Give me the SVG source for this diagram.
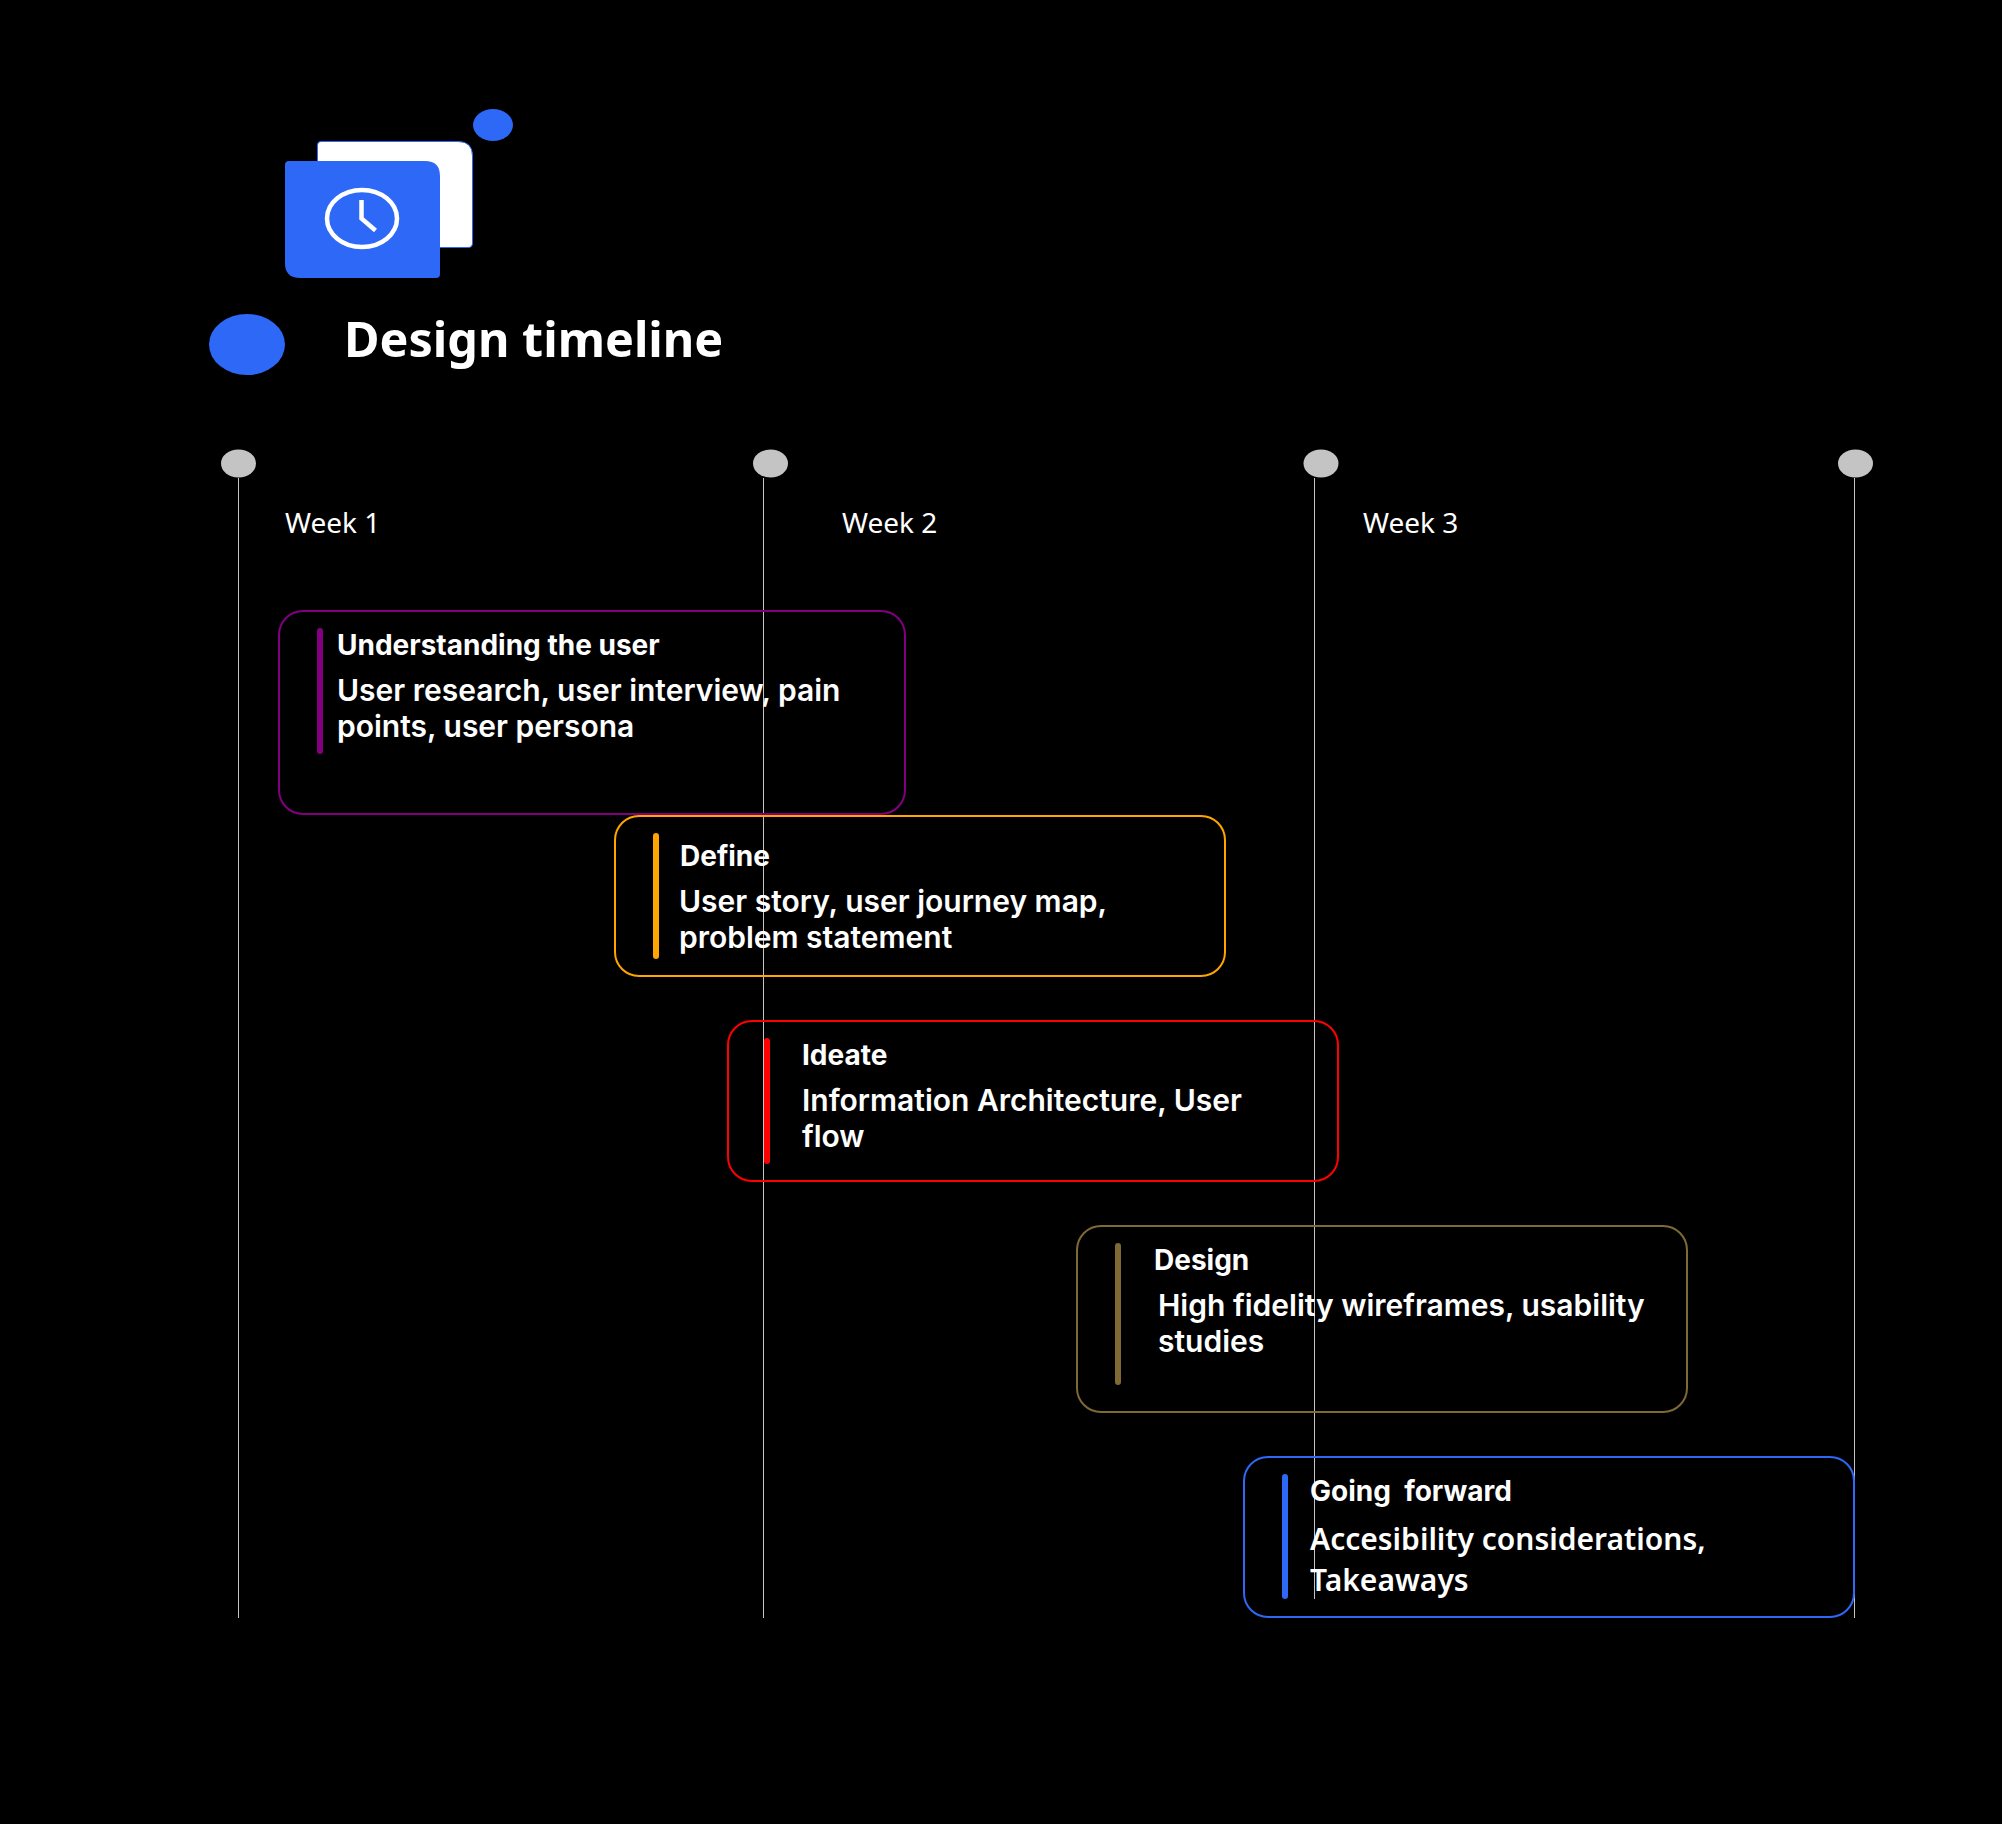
<svg xmlns="http://www.w3.org/2000/svg" width="2002" height="1824" viewBox="0 0 2002 1824">
<style>
.bg{fill:#000}
.blue{fill:#2d68f6}
.dot{fill:#c4c4c4}
.axis{stroke:#c4c4c4;stroke-width:1;fill:none}
.card{fill:none;stroke-width:2}
.title{font-family:"Noto Sans","Open Sans",sans-serif;font-weight:700;font-size:48.5px;fill:#fff}
.week{font-family:"Noto Sans","Open Sans",sans-serif;font-weight:400;font-size:28px;fill:#fff}
.h{font-family:Inter,"Noto Sans",sans-serif;font-weight:700;font-size:28px;fill:#fff}
.b{font-family:Inter,"Noto Sans",sans-serif;font-weight:600;font-size:30px;fill:#fff}
.n{font-family:"Noto Sans",sans-serif;font-weight:600;font-size:30px;fill:#fff}
</style>
<rect class="bg" width="2002" height="1824"/>
<g id="icon">
<ellipse class="blue" cx="493" cy="125" rx="20" ry="16"/>
<path d="M321 141.5H458Q472.5 141.5 472.5 156V243Q472.5 247.5 468 247.5H317.5V145Q317.5 141.5 321 141.5Z" fill="#fff" stroke="#2d68f6"/>
<path class="blue" d="M289 161H425Q440 161 440 176V274Q440 278 436 278H300Q285 278 285 263V165Q285 161 289 161Z"/>
<ellipse cx="362" cy="218.5" rx="35" ry="28.5" fill="none" stroke="#fff" stroke-width="4.5"/>
<path d="M361.5 200V218.5L375.5 230.5" fill="none" stroke="#fff" stroke-width="4.5"/>
</g>
<g id="heading">
<ellipse class="blue" cx="247" cy="344.5" rx="38" ry="30.5"/>
<text class="title" x="344" y="357">Design timeline</text>
</g>
<g id="connectors">
<line class="axis" x1="238.5" y1="478" x2="238.5" y2="1618"/>
<line class="axis" x1="763.5" y1="478" x2="763.5" y2="1618"/>
<line class="axis" x1="1314.5" y1="478" x2="1314.5" y2="1599"/>
<line class="axis" x1="1854.5" y1="478" x2="1854.5" y2="1618"/>
</g>
<g id="week-markers">
<ellipse class="dot" cx="238.5" cy="463.5" rx="17.5" ry="14"/>
<ellipse class="dot" cx="770.5" cy="463.5" rx="17.5" ry="14"/>
<ellipse class="dot" cx="1321" cy="463.5" rx="17.5" ry="14"/>
<ellipse class="dot" cx="1855.5" cy="463.5" rx="17.5" ry="14"/>
<text class="week" x="285" y="533">Week 1</text>
<text class="week" x="842" y="533">Week 2</text>
<text class="week" x="1363" y="533">Week 3</text>
</g>
<g id="card-understanding">
<rect class="card" x="279" y="611" width="626" height="203" rx="24" stroke="#800080"/>
<rect x="317" y="628" width="6" height="126" rx="3" fill="#800080"/>
<text class="h" x="337" y="655">Understanding the user</text>
<text class="b" x="337" y="701">User research, user interview, pain</text>
<text class="b" x="337" y="737">points, user persona</text>
</g>
<g id="card-define">
<rect class="card" x="615" y="816" width="610" height="160" rx="24" stroke="#ffa500"/>
<rect x="653" y="833" width="6" height="126" rx="3" fill="#ffa500"/>
<text class="h" x="680" y="866">Define</text>
<text class="b" x="679" y="912">User story, user journey map,</text>
<text class="b" x="679" y="948">problem statement</text>
</g>
<g id="card-ideate">
<rect class="card" x="728" y="1021" width="610" height="160" rx="24" stroke="#ff0000"/>
<rect x="764" y="1038" width="6" height="126" rx="3" fill="#ff0000"/>
<text class="h" x="802" y="1065">Ideate</text>
<text class="b" x="802" y="1111">Information Architecture, User</text>
<text class="b" x="802" y="1147">flow</text>
</g>
<g id="card-design">
<rect class="card" x="1077" y="1226" width="610" height="186" rx="24" stroke="#7f6a35"/>
<rect x="1115" y="1243" width="6" height="142" rx="3" fill="#7f6a35"/>
<text class="h" x="1154" y="1270">Design</text>
<text class="b" x="1158" y="1316">High fidelity wireframes, usability</text>
<text class="b" x="1158" y="1352">studies</text>
</g>
<g id="card-forward">
<rect class="card" x="1244" y="1457" width="610" height="160" rx="24" stroke="#2d68f6"/>
<rect x="1282" y="1474" width="6" height="125" rx="3" fill="#2d68f6"/>
<text class="h" x="1310" y="1501" xml:space="preserve">Going  forward</text>
<text class="n" x="1310" y="1550">Accesibility considerations,</text>
<text class="n" x="1310" y="1591">Takeaways</text>
</g>
</svg>
